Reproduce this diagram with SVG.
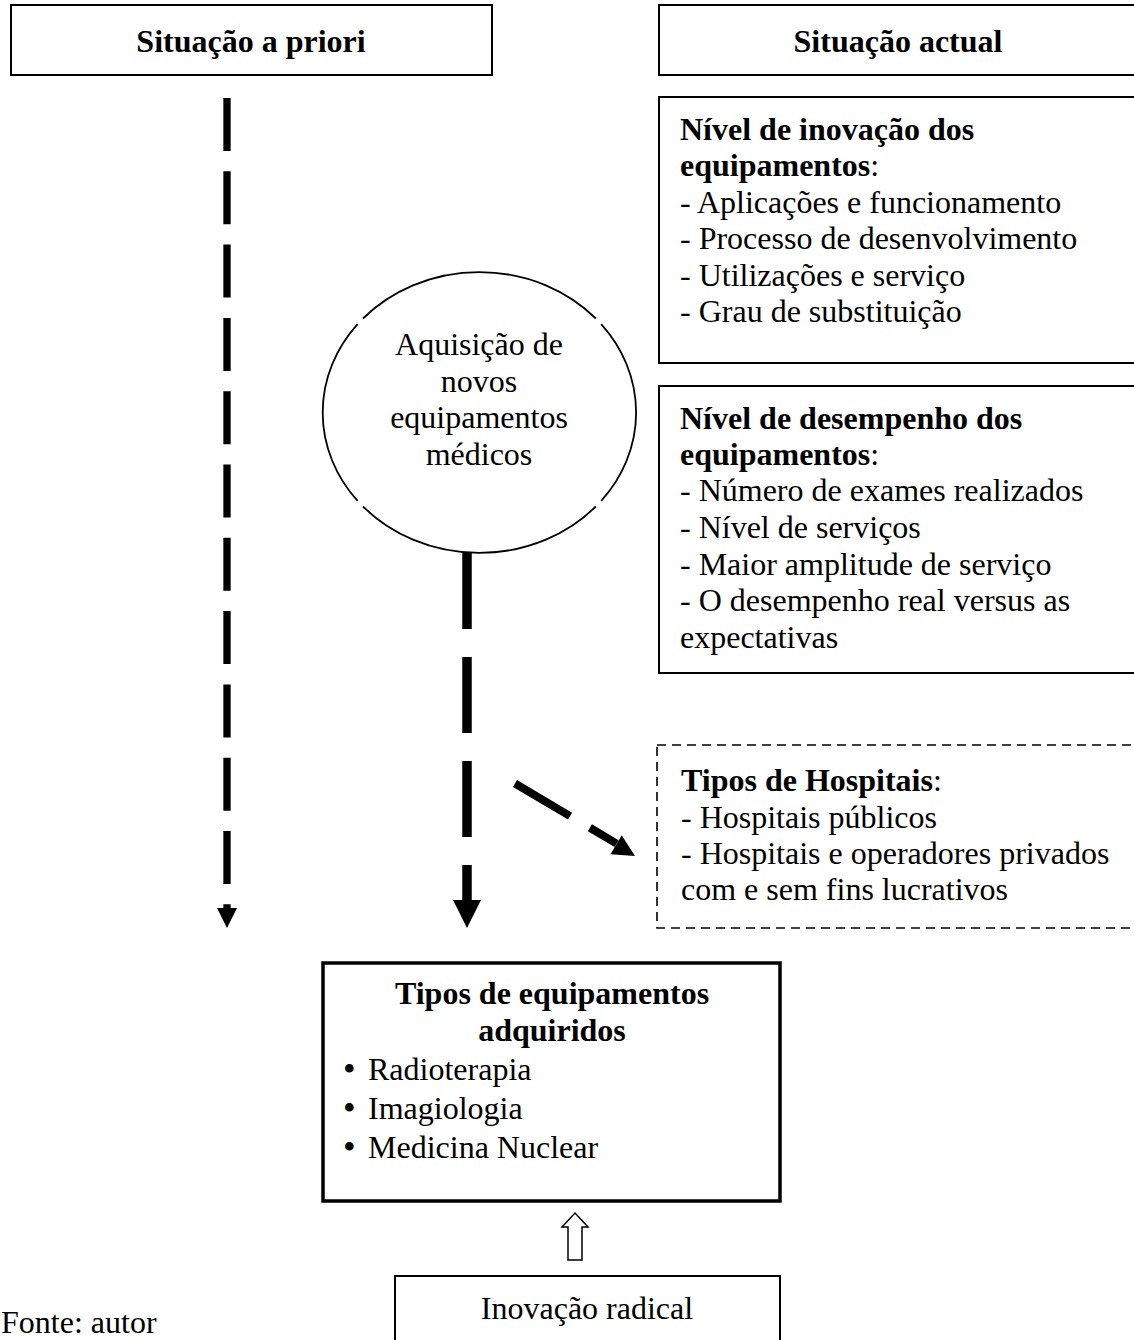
<svg xmlns="http://www.w3.org/2000/svg" width="1134" height="1340" viewBox="0 0 1134 1340">
  <style>
    text { font-family: "Liberation Serif", "Times New Roman", serif; font-size: 32px; fill: #000; }
    .b { font-weight: bold; }
    .mid { text-anchor: middle; }
    .box { fill: #fff; stroke: #000; stroke-width: 2; }
    .thick { fill: #fff; stroke: #000; stroke-width: 3.5; }
    .dashbox { fill: none; stroke: #000; stroke-width: 1.6; stroke-dasharray: 9 6; }
    .ring { fill: none; stroke: #000; stroke-width: 1.8; }
    .shaft { fill: none; stroke: #000; }
    .head { fill: #000; stroke: none; }
    .dot { font-size: 36px; }
  </style>

  <rect width="1134" height="1340" fill="#fff"/>

  <!-- Column headers -->
  <g id="header-priori">
    <rect class="box" x="11" y="5" width="481" height="70"/>
    <text class="b mid" x="251" y="52">Situação a priori</text>
  </g>
  <g id="header-actual">
    <rect class="box" x="659" y="5" width="478" height="70"/>
    <text class="b mid" x="898" y="52">Situação actual</text>
  </g>

  <!-- Innovation level -->
  <g id="nivel-inovacao">
    <rect class="box" x="659" y="97" width="478" height="266"/>
    <text x="680" y="140"><tspan class="b">Nível de inovação dos</tspan></text>
    <text x="680" y="176"><tspan class="b">equipamentos</tspan>:</text>
    <text x="680" y="212.5">- Aplicações e funcionamento</text>
    <text x="680" y="249">- Processo de desenvolvimento</text>
    <text x="680" y="285.5">- Utilizações e serviço</text>
    <text x="680" y="322">- Grau de substituição</text>
  </g>

  <!-- Performance level -->
  <g id="nivel-desempenho">
    <rect class="box" x="659" y="386" width="478" height="287"/>
    <text x="680" y="429"><tspan class="b">Nível de desempenho dos</tspan></text>
    <text x="680" y="465"><tspan class="b">equipamentos</tspan>:</text>
    <text x="680" y="501">- Número de exames realizados</text>
    <text x="680" y="538">- Nível de serviços</text>
    <text x="680" y="575">- Maior amplitude de serviço</text>
    <text x="680" y="611">- O desempenho real versus as</text>
    <text x="680" y="648">expectativas</text>
  </g>

  <!-- Acquisition (ellipse drawn as four arcs) -->
  <g id="aquisicao">
    <path class="ring" d="M595.8,318.5 A156.7,140.5 0 0 0 363.0,318.5
                          M357.6,324.1 A156.7,140.5 0 0 0 357.6,500.9
                          M363.0,506.5 A156.7,140.5 0 0 0 595.8,506.5
                          M601.2,500.9 A156.7,140.5 0 0 0 601.2,324.1"/>
    <text class="mid" x="479" y="355">Aquisição de</text>
    <text class="mid" x="479" y="392">novos</text>
    <text class="mid" x="479" y="428">equipamentos</text>
    <text class="mid" x="479" y="465">médicos</text>
  </g>

  <!-- Hospital types -->
  <g id="tipos-hospitais">
    <rect class="dashbox" x="657" y="745" width="490" height="183"/>
    <text x="681" y="791"><tspan class="b">Tipos de Hospitais</tspan>:</text>
    <text x="681" y="828">- Hospitais públicos</text>
    <text x="681" y="864">- Hospitais e operadores privados</text>
    <text x="681" y="900">com e sem fins lucrativos</text>
  </g>

  <!-- Acquired equipment -->
  <g id="tipos-equipamentos">
    <rect class="thick" x="323" y="963" width="457" height="238"/>
    <text class="b mid" x="552" y="1004">Tipos de equipamentos</text>
    <text class="b mid" x="552" y="1041">adquiridos</text>
    <text class="dot" x="343" y="1081">•</text><text x="368" y="1080">Radioterapia</text>
    <text class="dot" x="343" y="1120">•</text><text x="368" y="1119">Imagiologia</text>
    <text class="dot" x="343" y="1159">•</text><text x="368" y="1158">Medicina Nuclear</text>
  </g>

  <!-- Radical innovation -->
  <g id="inovacao-radical">
    <rect class="box" x="395" y="1276" width="385" height="80"/>
    <text class="mid" x="587" y="1319">Inovação radical</text>
  </g>

  <!-- Source note -->
  <g id="fonte">
    <text x="1" y="1333">Fonte: autor</text>
  </g>

  <!-- Connectors -->
  <g id="connectors">
    <!-- left timeline -->
    <line class="shaft" x1="227" y1="98" x2="227" y2="909" stroke-width="7.3" stroke-dasharray="53 20.3"/>
    <polygon class="head" points="217,908 237,908 227,928"/>
    <!-- circle to acquired equipment -->
    <line class="shaft" x1="467" y1="553" x2="467" y2="902" stroke-width="9.5" stroke-dasharray="76 28"/>
    <polygon class="head" points="453,900 481,900 467,928"/>
    <!-- towards hospital types -->
    <line class="shaft" x1="515" y1="783.5" x2="616.6" y2="843.6" stroke-width="8" stroke-dasharray="64 23"/>
    <polygon class="head" points="635,856 610.5,854.3 621.7,835.3"/>
    <!-- hollow arrow from radical innovation -->
    <polygon points="575,1213 588,1227 582,1227 582,1260 568,1260 568,1227 562,1227" fill="#fff" stroke="#000" stroke-width="1.5"/>
  </g>
</svg>
